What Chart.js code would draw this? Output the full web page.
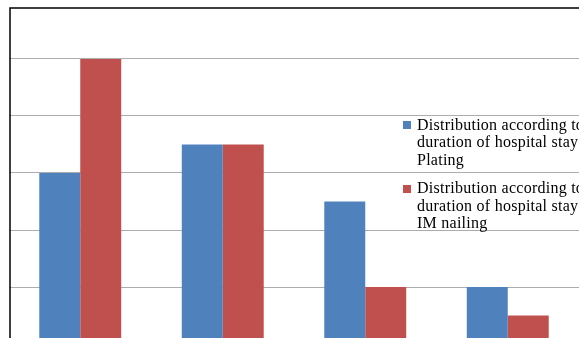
<!DOCTYPE html>
<html>
<head>
<meta charset="utf-8">
<script src="https://cdn.jsdelivr.net/npm/chart.js@4"></script>
<style>
  html, body { margin: 0; padding: 0; background: #fff; overflow: hidden; }
  #wrap { position: relative; width: 579px; height: 338px; overflow: hidden; }
  #chart { position: absolute; left: 0; top: 0; }
  #legend {
    position: absolute; left: 403px; top: 115.5px;
    font-family: "Liberation Serif", "DejaVu Serif", serif;
    font-size: 16px; letter-spacing: 0.25px; line-height: 17.6px; color: #000;
    white-space: nowrap;
  }
  .item { position: relative; padding-left: 14px; margin-bottom: 10.8px; }
  .swatch { position: absolute; left: 0; top: 5.5px; width: 8px; height: 8px; }
</style>
</head>
<body>
<div id="wrap">
  <canvas id="chart" width="579" height="344"></canvas>
  <div id="legend"></div>
</div>
<script>
// Hospital-stay groups (axis labels sit below the visible frame)
const categories = ['Stay group 1', 'Stay group 2', 'Stay group 3', 'Stay group 4'];

const platingLabel = ['Distribution according to', 'duration of hospital stay', 'Plating'];
const nailingLabel = ['Distribution according to', 'duration of hospital stay', 'IM nailing'];

const platingValues = [3, 3.5, 2.5, 1];
const nailingValues = [5, 3.5, 1, 0.5];

const yStep = 1;

// Outer frame: top and left edges of the plot
const framePlugin = {
  id: 'frame',
  afterDraw(chart) {
    const { ctx, chartArea } = chart;
    const x = chartArea.left + 1;
    ctx.save();
    ctx.strokeStyle = '#000';
    ctx.lineWidth = 1.5;
    ctx.beginPath();
    ctx.moveTo(x, chartArea.bottom);
    ctx.lineTo(x, chartArea.top);
    ctx.lineTo(chartArea.right, chartArea.top);
    ctx.stroke();
    ctx.restore();
  }
};

const chart = new Chart(document.getElementById('chart'), {
  type: 'bar',
  data: {
    labels: categories,
    datasets: [
      { label: platingLabel.join(' '), lines: platingLabel, data: platingValues,
        backgroundColor: '#4F81BD', borderWidth: 0 },
      { label: nailingLabel.join(' '), lines: nailingLabel, data: nailingValues,
        backgroundColor: '#C0504D', borderWidth: 0 }
    ]
  },
  options: {
    responsive: false,
    animation: false,
    devicePixelRatio: 1,
    layout: { padding: { left: 9, top: 8, right: 0, bottom: 0 } },
    datasets: { bar: { categoryPercentage: 0.575, barPercentage: 1 } },
    plugins: { legend: { display: false }, tooltip: { enabled: false } },
    scales: {
      x: { display: false, offset: true },
      y: {
        min: 0,
        max: 336 / 57,
        border: { display: false },
        ticks: { display: false, stepSize: yStep, includeBounds: false },
        grid: { color: '#ADADAD', lineWidth: 1, drawTicks: false }
      }
    }
  },
  plugins: [framePlugin]
});

// Legend built from the datasets
const legend = document.getElementById('legend');
chart.data.datasets.forEach(ds => {
  const item = document.createElement('div');
  item.className = 'item';
  const sw = document.createElement('span');
  sw.className = 'swatch';
  sw.style.background = ds.backgroundColor;
  item.appendChild(sw);
  ds.lines.forEach((line, i) => {
    if (i) item.appendChild(document.createElement('br'));
    item.appendChild(document.createTextNode(line));
  });
  legend.appendChild(item);
});
</script>
</body>
</html>
